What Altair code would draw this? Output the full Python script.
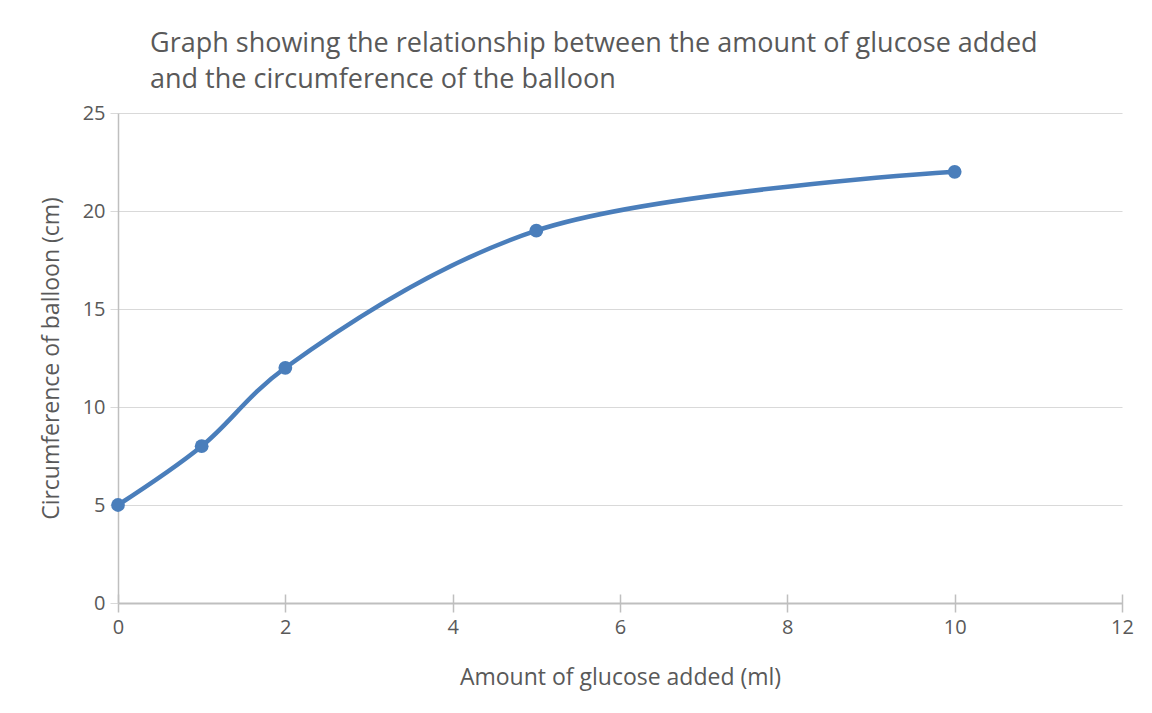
import altair as alt
import pandas as pd

glucose_ml = [0, 1, 2, 5, 10]
circumference_cm = [5, 8, 12, 19, 22]
x_ticks = [0, 2, 4, 6, 8, 10, 12]
y_ticks = [0, 5, 10, 15, 20, 25]
title_lines = [
    "Graph showing the relationship between the amount of glucose added",
    "and the circumference of the balloon",
]
x_title = "Amount of glucose added (ml)"
y_title = "Circumference of balloon (cm)"

df = pd.DataFrame({"x": glucose_ml, "y": circumference_cm})

FONT = "Open Sans"
TEXT = "#595959"
BLUE = "#4a7ebb"

x_enc = alt.X(
    "x:Q",
    scale=alt.Scale(domain=[0, 12], nice=False),
    axis=alt.Axis(
        values=x_ticks,
        format="d",
        labelFlush=False,
        title=x_title,
        titleFontSize=23,
        domain=False,
        grid=False,
        offset=-9,
        tickSize=18,
        tickColor="#bfbfbf",
        tickWidth=1.5,
        labelPadding=5,
        titlePadding=29,
    ),
)
y_enc = alt.Y(
    "y:Q",
    scale=alt.Scale(domain=[0, 25], nice=False),
    axis=alt.Axis(
        values=y_ticks,
        format="d",
        title=y_title,
        titleFontSize=23,
        domain=True,
        domainColor="#bfbfbf",
        domainWidth=1.5,
        grid=True,
        gridColor=alt.condition("datum.value == 0", alt.value("#bfbfbf"), alt.value("#d9d9d9")),
        gridWidth=alt.condition("datum.value == 0", alt.value(2), alt.value(1.2)),
        tickSize=8,
        tickColor="#d9d9d9",
        labelPadding=5,
        titlePadding=19,
    ),
)

line = alt.Chart(df).mark_line(
    interpolate="catmull-rom", color=BLUE, strokeWidth=4.5
).encode(x=x_enc, y=y_enc)
points = alt.Chart(df).mark_circle(color=BLUE, size=190, opacity=1).encode(x="x:Q", y="y:Q")

chart = (
    alt.layer(line, points)
    .properties(
        width=1004,
        height=490,
        autosize=alt.AutoSizeParams(type="none"),
        padding={"left": 110, "top": 105, "right": 22, "bottom": 95},
        title=alt.Title(
            title_lines,
            anchor="start",
            frame="group",
            dx=32,
            offset=9,
            fontSize=27,
            font=FONT,
            fontWeight="normal",
            color=TEXT,
            lineHeight=36,
        ),
    )
    .configure_view(stroke=None)
    .configure_axis(
        labelFont=FONT,
        titleFont=FONT,
        labelFontSize=20,
        titleFontSize=23,
        labelColor=TEXT,
        titleColor=TEXT,
        titleFontWeight="normal",
    )
)

chart.save("out.html", embed_options={"renderer": "svg", "actions": False})
